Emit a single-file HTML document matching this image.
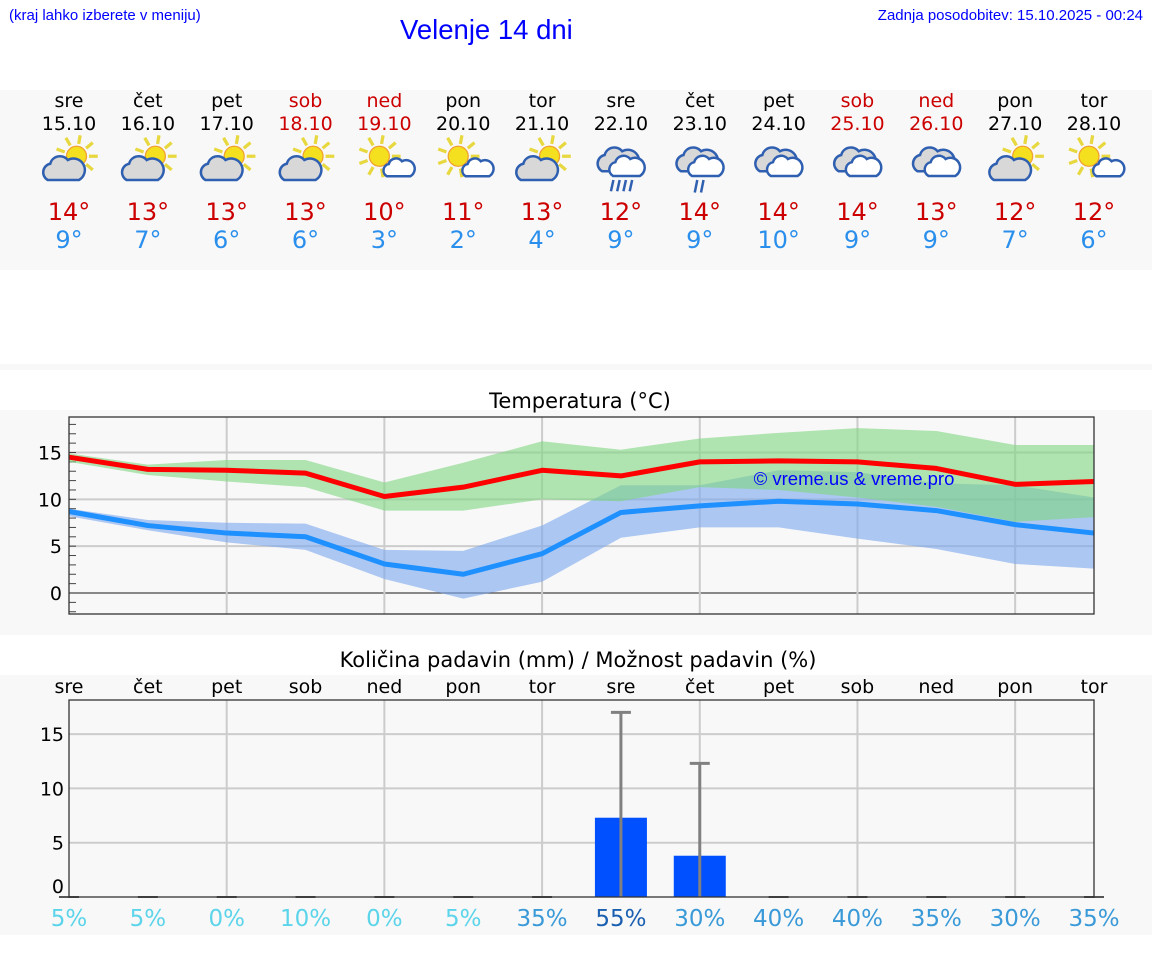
<!DOCTYPE html>
<html><head><meta charset="utf-8">
<style>
body{margin:0;width:1152px;height:975px;background:#fff;position:relative;overflow:hidden;font-family:"DejaVu Sans","Liberation Sans",sans-serif;}
.abs{position:absolute}
</style></head>
<body>
<div class="abs" style="left:9px;top:7px;font:15px 'Liberation Sans',sans-serif;color:#0000ff">(kraj lahko izberete v meniju)</div>
<div class="abs" style="left:400px;top:14px;font:27.5px 'Liberation Sans',sans-serif;color:#0000ff">Velenje 14 dni</div>
<div class="abs" style="right:9px;top:7px;font:15px 'Liberation Sans',sans-serif;color:#0000ff">Zadnja posodobitev: 15.10.2025 - 00:24</div>
<div class="abs" style="left:0;top:90px;width:1152px;height:180px;background:#f8f8f8"></div>
<div class="abs" style="left:0;top:364px;width:1152px;height:6px;background:#f8f8f8"></div>
<div class="abs" style="left:0;top:410px;width:1152px;height:225px;background:#f8f8f8"></div>
<div class="abs" style="left:0;top:675px;width:1152px;height:260px;background:#f8f8f8"></div>
<svg id="svg" class="abs" style="left:0;top:0" width="1152" height="975"></svg>
<script>
const days=["sre","čet","pet","sob","ned","pon","tor","sre","čet","pet","sob","ned","pon","tor"];
const dates=["15.10","16.10","17.10","18.10","19.10","20.10","21.10","22.10","23.10","24.10","25.10","26.10","27.10","28.10"];
const weekend=[0,0,0,1,1,0,0,0,0,0,1,1,0,0];
const icons=["pc","pc","pc","pc","sc","sc","pc","rain","rain2","cl","cl","cl","pc","sc"];
const hiLabels=[14,13,13,13,10,11,13,12,14,14,14,13,12,12];
const loLabels=[9,7,6,6,3,2,4,9,9,10,9,9,7,6];
const tMax=[14.5,13.2,13.1,12.8,10.3,11.3,13.1,12.5,14.0,14.1,14.0,13.3,11.6,11.9];
const tMaxHi=[14.9,13.7,14.2,14.2,11.8,13.9,16.2,15.3,16.5,17.1,17.6,17.3,15.8,15.8];
const tMaxLo=[14.0,12.6,11.9,11.3,8.8,8.8,10.0,9.8,11.3,11.0,10.2,9.2,7.6,8.1];
const tMin=[8.7,7.2,6.4,6.0,3.1,2.0,4.2,8.6,9.3,9.8,9.5,8.8,7.3,6.4];
const tMinHi=[9.0,7.8,7.5,7.4,4.6,4.5,7.2,11.5,11.5,13.1,12.9,11.7,11.5,10.2];
const tMinLo=[8.2,6.7,5.4,4.6,1.5,-0.6,1.2,5.9,7.0,7.0,5.8,4.7,3.1,2.6];
const tTicks=[0,5,10,15];
const precip=[0,0,0,0,0,0,0,7.3,3.8,0,0,0,0,0];
const precipMax=[0,0,0,0,0,0,0,17.0,12.3,0,0,0,0,0];
const precipProb=[5,5,0,10,0,5,35,55,30,40,40,35,30,35];
const pTicks=[0,5,10,15];

const svg=document.getElementById('svg');
const NS='http://www.w3.org/2000/svg';
function mk(tag,attrs,parent){const e=document.createElementNS(NS,tag);for(const k in attrs)e.setAttribute(k,attrs[k]);(parent||svg).appendChild(e);return e;}
const X=i=>69+i*(1094-69)/13;
const TY=v=>593-v*(593-452.5)/15;
const PY=v=>897-v*54.3/5;

days.forEach((d,i)=>{
 const c=weekend[i]?'#cc0000':'#000';
 let t=mk('text',{x:X(i),y:107,'text-anchor':'middle','font-size':19,fill:c});t.textContent=d;
 
 t=mk('text',{x:X(i),y:130,'text-anchor':'middle','font-size':19,fill:c});t.textContent=dates[i];
 
 t=mk('text',{x:X(i),y:220,'text-anchor':'middle','font-size':24,fill:'#cc0000'});t.textContent=hiLabels[i]+'°';
 
 t=mk('text',{x:X(i),y:248,'text-anchor':'middle','font-size':24,fill:'#2a8fec'});t.textContent=loLabels[i]+'°';
 
 const g=mk('g',{transform:`translate(${X(i)},160) scale(1.25)`});
 
 
 drawIcon(g,icons[i]);
});
function sun(g,cx,cy,r){
 for(let a=0;a<360;a+=40){const rad=a*Math.PI/180;mk('line',{x1:cx+Math.cos(rad)*(r+2),y1:cy+Math.sin(rad)*(r+2),x2:cx+Math.cos(rad)*(r+9),y2:cy+Math.sin(rad)*(r+9),stroke:'#e8d840','stroke-width':2.6},g);}
 mk('circle',{cx,cy,r,fill:'#f5e020',stroke:'#f0a030','stroke-width':1},g);
}
function cloud(g,x,y,s,fill){
 const p=`M${x-12*s},${y+8*s} a${7*s},${7*s} 0 0 1 ${2*s},${-13*s} a${8*s},${8*s} 0 0 1 ${14*s},${-3*s} a${7*s},${7*s} 0 0 1 ${9*s},${16*s} z`;
 mk('path',{d:p,fill,stroke:'#2f5fb0','stroke-width':2},g);
}
function drawIcon(g,t){
 if(t=='pc'){sun(g,6,-3,8);cloud(g,-5,8,1,'#d8d8d8');}
 else if(t=='sc'){sun(g,-4,-3,8);cloud(g,11,7,0.75,'#fff');}
 else{cloud(g,-3,1,1,'#d8d8d8');cloud(g,4,6,0.85,'#fff');
  if(t=='rain'){for(let k=0;k<4;k++)mk('line',{x1:-6+k*5,y1:16,x2:-8+k*5,y2:25,stroke:'#3060b0','stroke-width':2},g);}
  if(t=='rain2'){for(let k=0;k<2;k++)mk('line',{x1:-2+k*5,y1:16,x2:-4+k*5,y2:26,stroke:'#3060b0','stroke-width':2},g);}
 }
}

let t=mk('text',{x:580,y:408,'text-anchor':'middle','font-size':21,fill:'#000'});t.textContent='Temperatura (°C)';

mk('rect',{x:69,y:417,width:1025,height:197,fill:'#f8f8f8'});
tTicks.forEach(v=>{const y=TY(v);
 mk('line',{x1:69,x2:1094,y1:y,y2:y,stroke:v==0?'#444':'#ccc','stroke-width':v==0?1.2:2});
 const l=mk('text',{x:62,y:y+7,'text-anchor':'end','font-size':19,fill:'#000'});l.textContent=v;
 });
for(let v=-2;v<=18;v++){mk('line',{x1:69,x2:76,y1:TY(v),y2:TY(v),stroke:'#444','stroke-width':1});}
for(let i=2;i<13;i+=2)mk('line',{x1:X(i),x2:X(i),y1:417,y2:614,stroke:'#ccc','stroke-width':2});
function band(hi,lo,fill,name){let d='M'+hi.map((v,i)=>X(i)+','+TY(v)).join(' L')+' L'+lo.map((v,i)=>X(i)+','+TY(v)).reverse().join(' L')+'Z';
 const p=mk('path',{d,fill,'fill-opacity':0.6});}
band(tMinHi,tMinLo,'#7aa6ee','min-temp-range');
band(tMaxHi,tMaxLo,'#7fd67f','max-temp-range');
function line(vals,col,name){const p=mk('polyline',{points:vals.map((v,i)=>X(i)+','+TY(v)).join(' '),fill:'none',stroke:col,'stroke-width':5,'stroke-linejoin':'round'});
 }
line(tMin,'#1e90ff','min-temp-line');
line(tMax,'#ff0000','max-temp-line');
mk('rect',{x:69,y:417,width:1025,height:197,fill:'none',stroke:'#333','stroke-width':1.3});
t=mk('text',{x:854,y:485,'text-anchor':'middle','font-size':18.5,fill:'#0000ff','font-family':'Liberation Sans'});t.textContent='© vreme.us & vreme.pro';


t=mk('text',{x:578,y:667,'text-anchor':'middle','font-size':21,fill:'#000'});t.textContent='Količina padavin (mm) / Možnost padavin (%)';

days.forEach((d,i)=>{const l=mk('text',{x:X(i),y:693,'text-anchor':'middle','font-size':19,fill:'#000'});l.textContent=d;
 });
mk('rect',{x:69,y:700,width:1025,height:197,fill:'#f8f8f8'});
pTicks.forEach(v=>{const y=PY(v);
 if(v>0)mk('line',{x1:69,x2:1094,y1:y,y2:y,stroke:'#ccc','stroke-width':2});
 const l=mk('text',{x:64,y:(v==0?y-4:y+7),'text-anchor':'end','font-size':19,fill:'#000'});l.textContent=v;
 });
for(let i=2;i<13;i+=2)mk('line',{x1:X(i),x2:X(i),y1:700,y2:897,stroke:'#ccc','stroke-width':2});
precip.forEach((v,i)=>{
 if(v>0){const b=mk('rect',{x:X(i)-26,y:PY(v),width:52,height:PY(0)-PY(v),fill:'#0050ff'});
  }
 if(precipMax[i]>0){mk('line',{x1:X(i),x2:X(i),y1:PY(precipMax[i]),y2:PY(0),stroke:'#808080','stroke-width':3});
  mk('line',{x1:X(i)-10,x2:X(i)+10,y1:PY(precipMax[i]),y2:PY(precipMax[i]),stroke:'#808080','stroke-width':3});}
 else mk('line',{x1:X(i)-10,x2:X(i)+10,y1:PY(0),y2:PY(0),stroke:'#555','stroke-width':2});
 const c=precipProb[i]>=50?'#1a5fb0':precipProb[i]>=30?'#3a9ad8':'#5cd4ea';
 const l=mk('text',{x:X(i),y:926,'text-anchor':'middle','font-size':23,fill:c});l.textContent=precipProb[i]+'%';
 
});
mk('rect',{x:69,y:700,width:1025,height:197,fill:'none',stroke:'#333','stroke-width':1.3});
</script>
</body></html>
